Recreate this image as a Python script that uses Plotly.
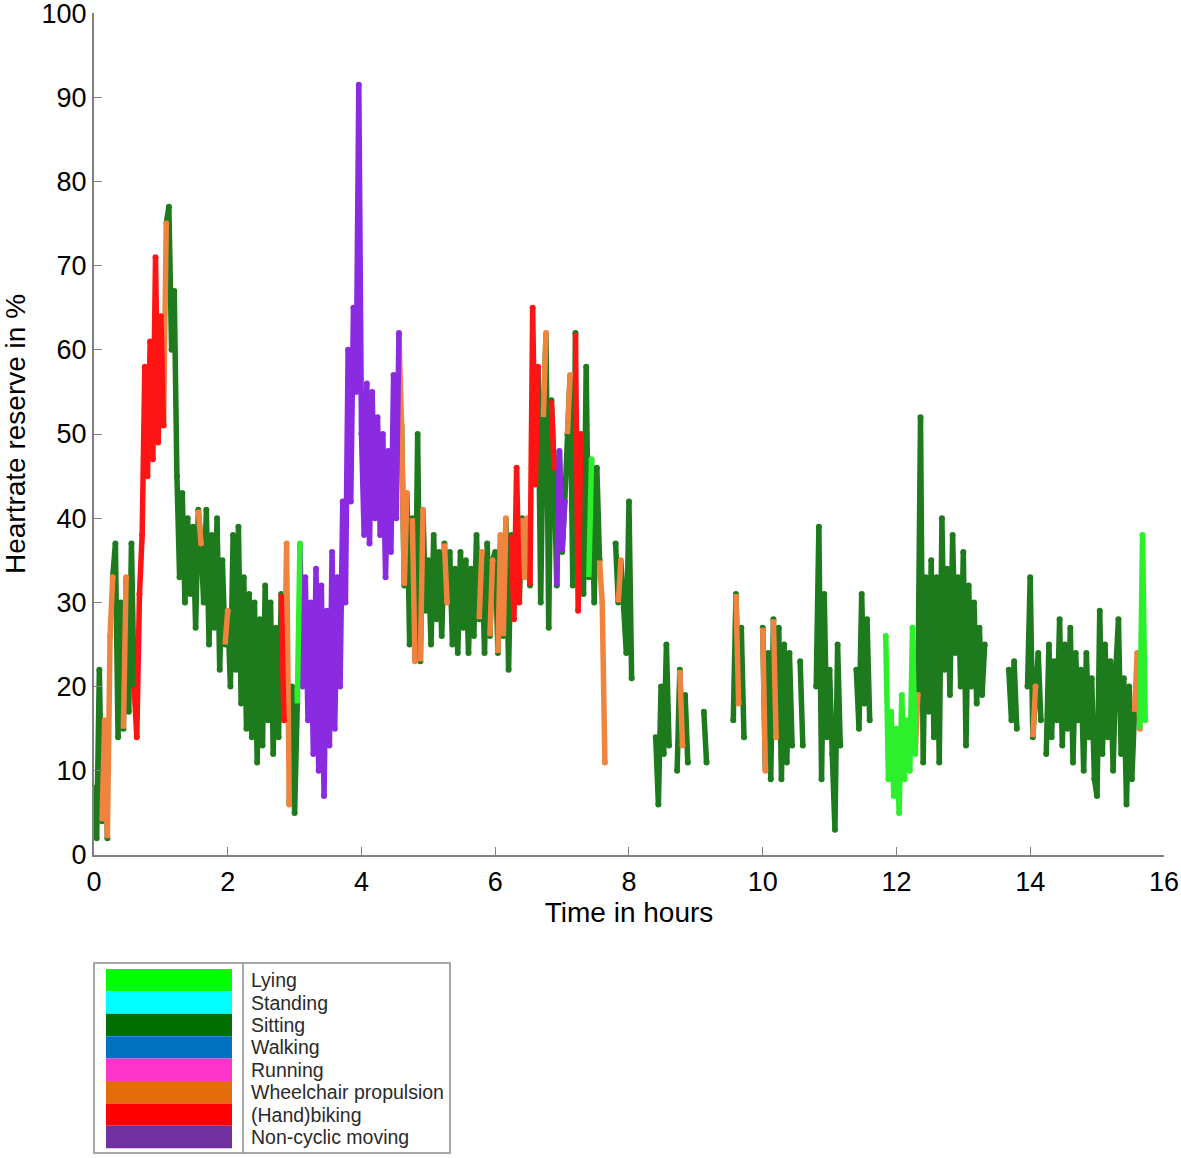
import plotly.graph_objects as go

# ---------------- DATA ----------------
# Sampling step (hours) within each hour block; value None = no recording
DT = 0.04

ACTIVITIES = ["Lying", "Standing", "Sitting", "Walking", "Running",
              "Wheelchair propulsion", "(Hand)biking", "Non-cyclic moving"]
CODE_TO_ACTIVITY = {"L": "Lying", "T": "Standing", "S": "Sitting", "K": "Walking",
                    "R": "Running", "W": "Wheelchair propulsion", "B": "(Hand)biking",
                    "N": "Non-cyclic moving"}

# Heart-rate reserve (%) per hour block, 25 samples each
HR_H00 = [8, 2, 22, 4, 16, 2, 26, 33, 37, 14, 30, 15, 33, 17, 37, 20, 14, 31, 38, 58, 45, 61, 47, 71, 49]
HR_H01 = [64, 51, 75, 77, 60, 67, 45, 33, 43, 30, 40, 31, 39, 27, 41, 37, 30, 41, 25, 38, 27, 40, 22, 35, 25]
HR_H02 = [29, 20, 38, 22, 39, 18, 33, 15, 31, 14, 30, 11, 28, 13, 32, 16, 30, 12, 27, 14, 31, 16, 37, 6, 20]
HR_H03 = [5, 18, 37, 20, 33, 16, 30, 12, 34, 10, 32, 7, 29, 13, 36, 15, 33, 20, 42, 30, 60, 42, 65, 55, 91.5]
HR_H04 = [50, 38, 56, 37, 55, 40, 52, 38, 50, 33, 48, 36, 57, 40, 62, 51, 32, 43, 25, 40, 23, 50, 23, 41, 29]
HR_H05 = [35, 25, 38, 28, 36, 26, 37, 30, 36, 25, 34, 24, 36, 27, 35, 24, 34, 26, 38, 28, 36, 24, 37, 26, 35]
HR_H06 = [36, 24, 38, 26, 40, 22, 38, 28, 46, 30, 40, 33, 40, 32, 65, 44, 58, 30, 52, 62, 27, 54, 46, 32, 48]
HR_H07 = [36, 42, 50, 57, 32, 62, 29, 50, 31, 58, 33, 47, 30, 46, 35, 30, 11, None, None, None, 37, 30, 35, 30, 24]
HR_H08 = [42, 21, None, None, None, None, None, None, None, None, 14, 6, 20, 12, 25, 13, None, None, 10, 22, 13, 19, 11, None, None]
HR_H09 = [None, None, None, 17, 11, None, None, None, None, None, None, None, None, None, 16, 31, 18, 27, 14, None, None, None, None, None, None]
HR_H10 = [27, 10, 24, 9, 28, 14, 27, 9, 25, 11, 24, 13, None, None, 23, 13, None, None, None, None, 20, 39, 9, 31, 14]
HR_H11 = [22, 12, 3, 25, 13, None, None, None, None, None, 22, 15, 31, 18, 28, 16, None, None, None, None, None, 26, 9, 17, 7]
HR_H12 = [15, 5, 19, 9, 16, 10, 27, 12, 19, 52, 11, 33, 17, 35, 14, 33, 11, 40, 22, 34, 19, 38, 24, 33, 20]
HR_H13 = [36, 13, 32, 20, 30, 18, 27, 19, 25, None, None, None, None, None, None, None, None, 22, 16, 23, 15, None, None, None, 20]
HR_H14 = [33, 14, 20, 24, 16, None, 12, 25, 14, 23, 16, 28, 13, 25, 15, 27, 11, 24, 16, 22, 10, 24, 14, 21, 9]
HR_H15 = [7, 29, 12, 25, 14, 23, 10, 22, 28, 12, 21, 6, 20, 9, 17, 24, 15, 38, 16, None, None, None, None, None, None]

# Activity code per sample (L, T, S, K, R, W, B, N; '-' = gap)
ACT_H00 = "SSSSWSWWSSSSWSSSBBBBBBBBB"
ACT_H01 = "BBWSSSSSSSSSSSSWSSSSSSSSS"
ACT_H02 = "WSSSSSSSSSSSSSSSSSSSSBWWS"
ACT_H03 = "SSLNNNNNNNNNNNNNNNNNNNNNN"
ACT_H04 = "NNNNNNNNNNNNNNNWSWSSWSSWS"
ACT_H05 = "SSSSSSSWSSSSSSSSSSSSWSSSW"
ACT_H06 = "SSWSWSSBBBSWWSBBBSSWSSBSN"
ACT_H07 = "SNSWSSBBSSSLSSSWW---SSWSS"
ACT_H08 = "SS--------SSSSSS--SSWSS--"
ACT_H09 = "---SS---------SSWSS------"
ACT_H10 = "SWSSSWSSSSSS--SS----SSSSS"
ACT_H11 = "SSSSS-----SSSSSS-----LLLL"
ACT_H12 = "LLLLLLLLWSSSSSSSSSSSSSSSS"
ACT_H13 = "SSSSSSSSS--------SSSS---S"
ACT_H14 = "SSWSS-SSSSSSSSSSSSSSSSSSS"
ACT_H15 = "SSSSSSSSSSSSSSSWWLL------"

X_TICKS = [0, 2, 4, 6, 8, 10, 12, 14, 16]
Y_TICKS = [0, 10, 20, 30, 40, 50, 60, 70, 80, 90, 100]

# ---------------- BUILD SERIES ----------------
HR_BLOCKS = [HR_H00, HR_H01, HR_H02, HR_H03, HR_H04, HR_H05, HR_H06, HR_H07,
             HR_H08, HR_H09, HR_H10, HR_H11, HR_H12, HR_H13, HR_H14, HR_H15]
ACT_BLOCKS = [ACT_H00, ACT_H01, ACT_H02, ACT_H03, ACT_H04, ACT_H05, ACT_H06, ACT_H07,
              ACT_H08, ACT_H09, ACT_H10, ACT_H11, ACT_H12, ACT_H13, ACT_H14, ACT_H15]

hours, hr, act = [], [], []
for h, (vals, codes) in enumerate(zip(HR_BLOCKS, ACT_BLOCKS)):
    for i, (v, c) in enumerate(zip(vals, codes)):
        hours.append(h + i * DT)
        hr.append(v)
        act.append(CODE_TO_ACTIVITY.get(c) if v is not None else None)

n = len(hr)

DATA_COLORS = {
    "Lying": "#2bf02b", "Standing": "#00ffff", "Sitting": "#1d7a1d", "Walking": "#0070c0",
    "Running": "#ff33cc", "Wheelchair propulsion": "#f0843f", "(Hand)biking": "#ff1414",
    "Non-cyclic moving": "#8a2be2",
}
LEGEND_COLORS = {
    "Lying": "#00ff00", "Standing": "#00ffff", "Sitting": "#006f00", "Walking": "#0070c0",
    "Running": "#ff33cc", "Wheelchair propulsion": "#e46c0a", "(Hand)biking": "#ff0000",
    "Non-cyclic moving": "#7030a0",
}

DRAW_ORDER = ["Sitting", "Standing", "Walking", "Running", "Wheelchair propulsion",
              "(Hand)biking", "Non-cyclic moving", "Lying"]

fig = go.Figure()
for a in DRAW_ORDER:
    y_line = []
    for i in range(n):
        keep = hr[i] is not None and (act[i] == a or (i + 1 < n and act[i + 1] == a))
        y_line.append(hr[i] if keep else None)
    y_mark = [hr[i] if act[i] == a else None for i in range(n)]
    if all(v is None for v in y_mark):
        continue
    fig.add_trace(go.Scatter(x=hours, y=y_line, mode="lines", name=a, showlegend=False,
                             line=dict(color=DATA_COLORS[a], width=5.5), connectgaps=False,
                             hoverinfo="skip"))
    fig.add_trace(go.Scatter(x=hours, y=y_mark, mode="markers", name=a, showlegend=False,
                             marker=dict(color=DATA_COLORS[a], size=6)))

# ---------------- LAYOUT ----------------
W, H = 1181, 1158
ML, MR, MT, MB = 94, 17, 13, 303
PW, PH = W - ML - MR, H - MT - MB
FONT = "Arial, 'Liberation Sans', Helvetica, sans-serif"


def px_to_paper(px, py):
    # page pixel -> paper coords
    return (px - ML) / PW, (H - MB - py) / PH


shapes = []
annotations = []
# legend box
x0, y0 = px_to_paper(94, 1153)
x1, y1 = px_to_paper(450, 963)
shapes.append(dict(type="rect", xref="paper", yref="paper", x0=x0, y0=y0, x1=x1, y1=y1,
                   line=dict(color="#8c8c8c", width=1.5), fillcolor="white", layer="above"))
dx, _ = px_to_paper(243, 0)
shapes.append(dict(type="line", xref="paper", yref="paper", x0=dx, x1=dx, y0=y0, y1=y1,
                   line=dict(color="#8c8c8c", width=1.5)))
row_h = 22.4
top = 969
for k, a in enumerate(ACTIVITIES):
    sx0, sy0 = px_to_paper(106, top + row_h * (k + 1))
    sx1, sy1 = px_to_paper(232, top + row_h * k)
    shapes.append(dict(type="rect", xref="paper", yref="paper", x0=sx0, y0=sy0, x1=sx1, y1=sy1,
                       line=dict(width=0), fillcolor=LEGEND_COLORS[a]))
    tx, ty = px_to_paper(249, top + row_h * (k + 0.5))
    annotations.append(dict(text=a, xref="paper", yref="paper", x=tx, y=ty, xanchor="left",
                            yanchor="middle", showarrow=False,
                            font=dict(family=FONT, size=19.5, color="#2a2a2a")))

fig.update_layout(
    width=W, height=H, autosize=False,
    margin=dict(l=ML, r=MR, t=MT, b=MB, pad=0),
    plot_bgcolor="white", paper_bgcolor="white",
    font=dict(family=FONT, color="black"),
    shapes=shapes, annotations=annotations,
    xaxis=dict(range=[0, 16.001], tickvals=X_TICKS, ticktext=[str(v) for v in X_TICKS],
               automargin=False,
               showgrid=False, zeroline=False, showline=True, linecolor="#808080", linewidth=2,
               ticks="inside", ticklen=8, tickcolor="#808080", tickwidth=1.2,
               tickfont=dict(size=27, family=FONT, color="black"), ticklabelstandoff=2,
               ticklabeloverflow="allow",
               title=dict(text="Time in hours", font=dict(size=28, family=FONT, color="black"),
                          standoff=4)),
    yaxis=dict(range=[0, 100.01], tickvals=Y_TICKS, ticktext=[str(v) for v in Y_TICKS],
               automargin=False,
               showgrid=False, zeroline=False, showline=True, linecolor="#808080", linewidth=2,
               ticks="inside", ticklen=8, tickcolor="#808080", tickwidth=1.2,
               tickfont=dict(size=27, family=FONT, color="black"), ticklabelstandoff=0,
               ticklabeloverflow="allow",
               title=dict(text="Heartrate reserve in %", font=dict(size=28, family=FONT, color="black"),
                          standoff=10)),
)

fig.write_html("out.html", config={"displayModeBar": False},
               post_script="document.body.style.margin='0px';")
